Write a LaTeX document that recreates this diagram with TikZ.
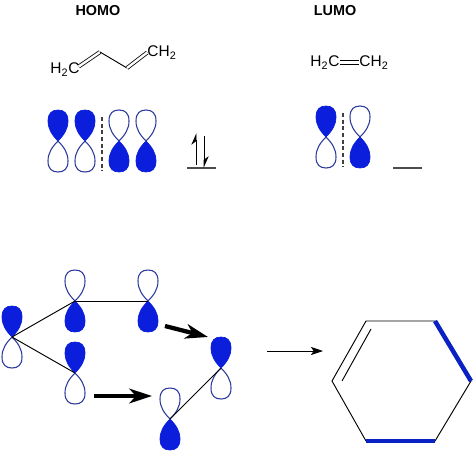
\documentclass[tikz,border=0pt]{standalone}
\usepackage{fontspec}
\setmainfont{Liberation Sans}
\usetikzlibrary{arrows.meta,positioning,calc}
\definecolor{orbfill}{HTML}{0A1EDC}
\definecolor{orbline}{HTML}{2B3A9C}
\definecolor{bondblue}{HTML}{0A22C4}
\newcommand{\lobe}{(0,0) .. controls (-6,-6) and (-10,-12) .. (-10,-20)
  .. controls (-10,-28) and (-6,-31) .. (0,-31)
  .. controls (6,-31) and (10,-28) .. (10,-20)
  .. controls (10,-12) and (6,-6) .. (0,0) -- cycle}
\tikzset{
  emptylobe/.style={draw=orbline,fill=white,line width=0.8pt},
  fulllobe/.style={draw=orbfill,fill=orbfill,line width=0.5pt},
  orbup/.pic={\path[emptylobe,yscale=-1] \lobe; \path[fulllobe] \lobe;},
  orbdown/.pic={\path[emptylobe] \lobe; \path[fulllobe,yscale=-1] \lobe;},
  title/.style={font=\bfseries\fontsize{10.8}{12}\selectfont,inner sep=0pt},
  chem/.style={font=\fontsize{11.6}{13}\selectfont,inner sep=0pt},
  bond/.style={line width=0.7pt},
  dbond/.style={double,double distance=1.8pt,line width=0.6pt},
  nodal/.style={densely dashed,line width=0.8pt,black!75},
  level/.style={line width=0.8pt,black!70},
  fatarrow/.style={-{Stealth[length=17pt,width=11pt,inset=5pt]},line width=3.2pt},
  hexblue/.style={line width=3.4pt,bondblue},
}
\begin{document}
\begin{tikzpicture}[x=0.75pt,y=-0.75pt]
  \useasboundingbox (0,0) rectangle (474,453);
  \node[title] (homo) at (98,11) {HOMO};
  \node[title] (lumo) at (335,11) {LUMO};
  % butadiene
  \node[chem] (bdleft) at (65,69.5) {H\textsubscript{2}C};
  \node[chem] (bdright) at (162,52.5) {CH\textsubscript{2}};
  \coordinate (bda) at (100,52);
  \coordinate (bdb) at (127,68);
  \draw[dbond] (bdleft.east) ++(-1,-3) -- (bda);
  \draw[bond] (bda) -- (bdb);
  \draw[dbond] (bdb) -- (bdright.west);
  % ethylene
  \node[chem] (etleft) at (325,62.5) {H\textsubscript{2}C};
  \node[chem] (etright) at (374,62.5) {CH\textsubscript{2}};
  \draw[bond] ([yshift=1.6pt]etleft.east) -- ([yshift=1.6pt]etright.west);
  \draw[bond] ([yshift=-1.6pt]etleft.east) -- ([yshift=-1.6pt]etright.west);
  % orbitals on top
  \foreach \x in {58,85}
    {\pic at (\x,141) {orbup};}
  \foreach \x in {119,146}
    {\pic at (\x,141) {orbdown};}
  \pic at (326,137) {orbup};
  \pic at (360,137) {orbdown};
  \coordinate (nodea) at (102,117);
  \coordinate (nodeb) at (102,171);
  \draw[nodal] (nodea) -- (nodeb);
  \coordinate (nodec) at (343,113);
  \coordinate (noded) at (343,167);
  \draw[nodal] (nodec) -- (noded);
  % levels
  \coordinate (lva) at (187,168);
  \coordinate (lvb) at (216,168);
  \draw[level] (lva) -- (lvb);
  \coordinate (lvc) at (393,168);
  \coordinate (lvd) at (422,168);
  \draw[level] (lvc) -- (lvd);
  \coordinate (spa) at (196,165);
  \coordinate (spb) at (196,133);
  \coordinate (spc) at (204,136);
  \coordinate (spd) at (204,168);
  \draw[-{Stealth[left,length=8pt,width=7pt]},line width=0.7pt] (spa) -- (spb);
  \draw[-{Stealth[left,length=8pt,width=7pt]},line width=0.7pt] (spc) -- (spd);
  % orbitals below
  \coordinate (orba) at (12,337);
  \coordinate (orbb) at (75,301);
  \coordinate (orbc) at (148,301);
  \coordinate (orbd) at (75,373);
  \coordinate (orbe) at (221,368);
  \coordinate (orbf) at (170,419);
  \foreach \o in {orba,orbd,orbe}
    {\pic at (\o) {orbup};}
  \foreach \o in {orbb,orbc,orbf}
    {\pic at (\o) {orbdown};}
  \draw[bond] (orba) -- (orbb);
  \draw[bond] (orba) -- (orbd);
  \draw[bond] (orbb) -- (orbc);
  \draw[bond] (orbe) -- (orbf);
  \coordinate (fata) at (165,326);
  \coordinate (fatb) at (208,337);
  \draw[fatarrow] (fata) -- (fatb);
  \coordinate (fatc) at (94,396);
  \coordinate (fatd) at (152,396);
  \draw[fatarrow] (fatc) -- (fatd);
  \coordinate (reca) at (267,351);
  \coordinate (recb) at (323,351);
  \draw[-{Stealth[length=9pt,width=6pt,inset=2pt]},line width=0.6pt] (reca) -- (recb);
  % cyclohexene
  \coordinate (hexa) at (366,321);
  \coordinate (hexb) at (435,321);
  \coordinate (hexc) at (471,381);
  \coordinate (hexd) at (435,441);
  \coordinate (hexe) at (366,441);
  \coordinate (hexf) at (332,381);
  \coordinate (inna) at (342,381);
  \coordinate (innb) at (371,329);
  \draw[bond] (hexa) -- (hexb) -- (hexc) -- (hexd) -- (hexe) -- (hexf) -- cycle;
  \draw[bond] (inna) -- (innb);
  \draw[hexblue] (hexb) -- (hexc);
  \draw[hexblue] (hexd) -- (hexe);
\end{tikzpicture}
\end{document}
